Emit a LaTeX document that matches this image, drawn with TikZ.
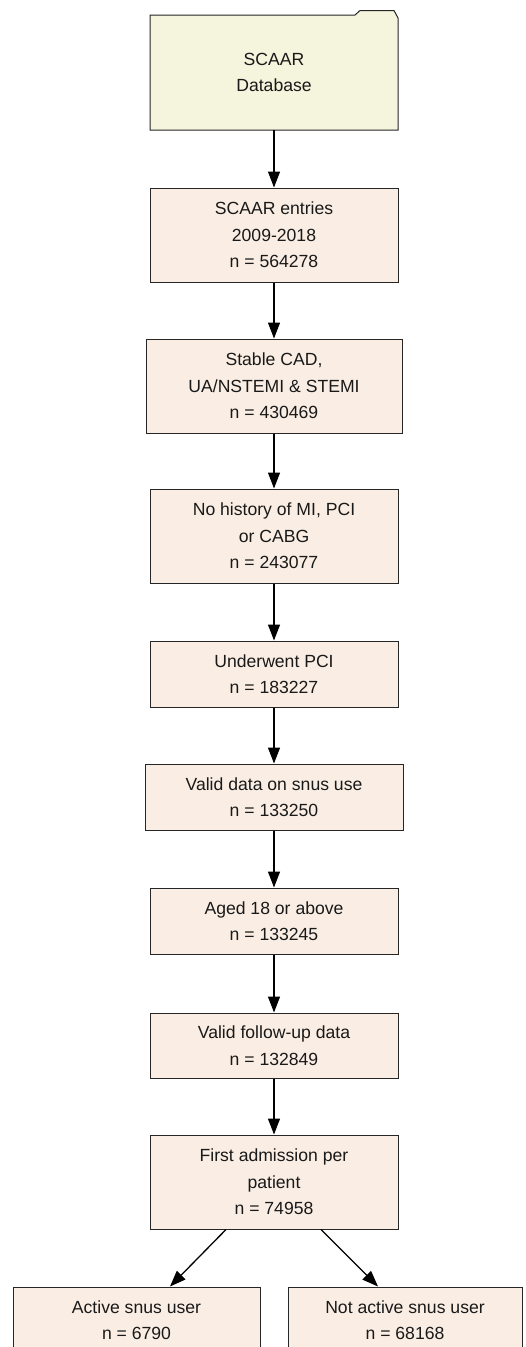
\documentclass[tikz,border=0pt]{standalone}
\usepackage{fontspec}
\setmainfont{Liberation Sans}
\usetikzlibrary{arrows.meta,calc}
\definecolor{folderfill}{RGB}{245,244,220}
\definecolor{boxfill}{RGB}{250,238,228}
\tikzset{
  stepbox/.style={draw=black!85, line width=1pt, fill=boxfill, rectangle, inner sep=0pt,
    align=center, font=\fontsize{17.6}{26.5}\selectfont, text=black!90},
  conn/.style={draw=black, line width=1.3pt, -{Triangle[length=16pt,width=12pt]}},
}
\begin{document}
\begin{tikzpicture}[x=1pt,y=-1pt]
\useasboundingbox (0,0) rectangle (525,1347);
\clip (0,0) rectangle (525,1347);
% folder shape
\draw[draw=black!85, line width=1pt, fill=folderfill]
  (150,15) -- (355,15) -- (360,10.5) -- (394,10.5) -- (398,18) -- (398,130) -- (150,130) -- cycle;
\node[align=center, font=\fontsize{17.6}{26.5}\selectfont, text=black!90, minimum width=248pt, minimum height=115pt, inner sep=0pt] (db) at (274,72.5) {SCAAR\\Database};
\node[stepbox, minimum width=248pt, minimum height=94pt] (e1) at (274,235) {SCAAR entries\\2009-2018\\n = 564278};
\node[stepbox, minimum width=256pt, minimum height=94pt] (e2) at (274,386) {Stable CAD,\\UA/NSTEMI \& STEMI\\n = 430469};
\node[stepbox, minimum width=248pt, minimum height=94pt] (e3) at (274,536) {No history of MI, PCI\\or CABG\\n = 243077};
\node[stepbox, minimum width=248pt, minimum height=66pt] (e4) at (274,674) {Underwent PCI\\n = 183227};
\node[stepbox, minimum width=258pt, minimum height=66pt] (e5) at (274,797) {Valid data on snus use\\n = 133250};
\node[stepbox, minimum width=248pt, minimum height=66pt] (e6) at (274,921) {Aged 18 or above\\n = 133245};
\node[stepbox, minimum width=248pt, minimum height=65pt] (e7) at (274,1045.5) {Valid follow-up data\\n = 132849};
\node[stepbox, minimum width=248pt, minimum height=94pt] (e8) at (274,1182) {First admission per\\patient\\n = 74958};
\node[stepbox, minimum width=247pt, minimum height=66pt] (l) at (136.5,1320) {Active snus user\\n = 6790};
\node[stepbox, minimum width=234pt, minimum height=66pt] (r) at (405,1320) {Not active snus user\\n = 68168};
\draw[conn] (db.south) -- (e1.north);
\draw[conn] (e1.south) -- (e2.north);
\draw[conn] (e2.south) -- (e3.north);
\draw[conn] (e3.south) -- (e4.north);
\draw[conn] (e4.south) -- (e5.north);
\draw[conn] (e5.south) -- (e6.north);
\draw[conn] (e6.south) -- (e7.north);
\draw[conn] (e7.south) -- (e8.north);
\draw[conn] ($(e8.south)+(-48,0)$) -- ($(l.north)+(33.5,0)$);
\draw[conn] ($(e8.south)+(47,0)$) -- ($(r.north)+(-27,0)$);
\end{tikzpicture}
\end{document}
